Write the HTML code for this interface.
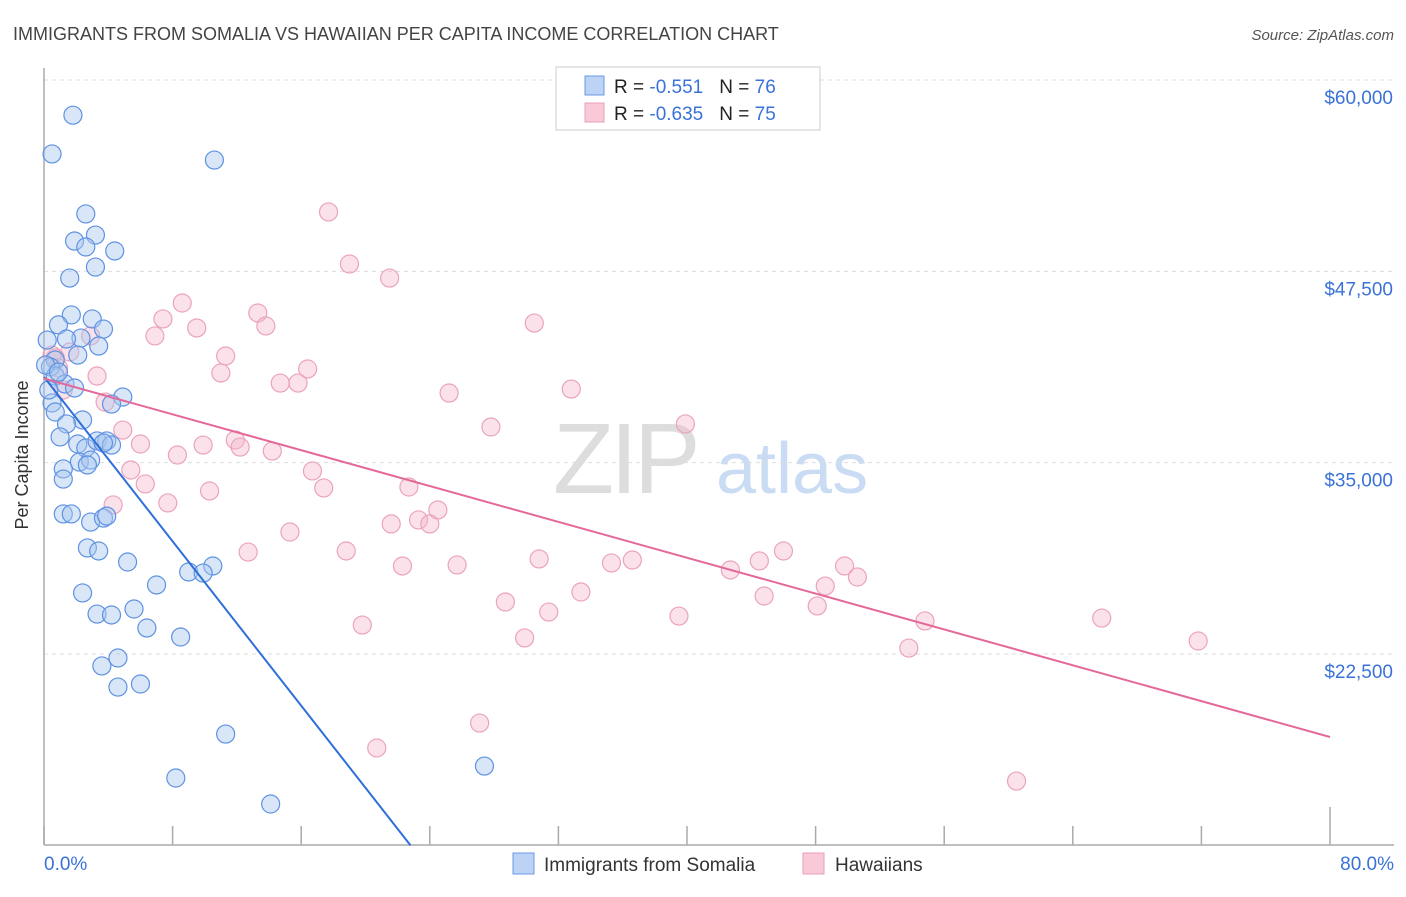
<!DOCTYPE html>
<html><head><meta charset="utf-8"><style>
body{margin:0;background:#fff;font-family:"Liberation Sans",sans-serif}
svg text{font-family:"Liberation Sans",sans-serif}
</style></head><body>
<svg id="chart" width="1406" height="892" xmlns="http://www.w3.org/2000/svg">
<text x="13" y="40" font-size="18" fill="#444">IMMIGRANTS FROM SOMALIA VS HAWAIIAN PER CAPITA INCOME CORRELATION CHART</text>
<text x="1394" y="40" font-size="15" fill="#555" font-style="italic" text-anchor="end">Source: ZipAtlas.com</text>
<g>
<text x="553" y="493" font-size="100" font-family="Liberation Serif" fill="#ddd" letter-spacing="-4">ZIP</text>
<text x="716" y="493" font-size="72" fill="#c9dcf3">atlas</text>
</g>
<g id="grid"></g>
<line x1="44" y1="68" x2="44" y2="845" stroke="#aaa" stroke-width="1.5"/>
<line x1="44" y1="845" x2="1394" y2="845" stroke="#aaa" stroke-width="1.5"/>
<g id="xticks"></g>
<text x="28" y="455" font-size="18" fill="#333" text-anchor="middle" transform="rotate(-90 28 455)">Per Capita Income</text>
<text x="44" y="870" font-size="19" fill="#3a72d8">0.0%</text>
<text x="1394" y="870" font-size="19" fill="#3a72d8" text-anchor="end">80.0%</text>
<g id="pink"></g>
<g id="blue"></g>
<g id="trends"></g>
<g>
<rect x="556" y="67" width="264" height="63" fill="#fff" stroke="#ccc"/>
<rect x="585" y="76" width="19" height="19" fill="#bcd3f5" stroke="#6a9ae3"/>
<rect x="585" y="103" width="19" height="19" fill="#f9c9d7" stroke="#eaa0b8"/>
<text x="614" y="93" font-size="19" fill="#222">R = <tspan fill="#3a72d8"> -0.551</tspan><tspan dx="16">N = </tspan><tspan fill="#3a72d8">76</tspan></text>
<text x="614" y="120" font-size="19" fill="#222">R = <tspan fill="#3a72d8">-0.635</tspan><tspan dx="16">N = </tspan><tspan fill="#3a72d8">75</tspan></text>
</g>
<g>
<rect x="513" y="853" width="21" height="21" fill="#bcd3f5" stroke="#6a9ae3"/>
<text x="544" y="871" font-size="19" fill="#333">Immigrants from Somalia</text>
<rect x="803" y="853" width="21" height="21" fill="#f9c9d7" stroke="#eaa0b8"/>
<text x="835" y="871" font-size="19" fill="#333">Hawaiians</text>
</g>
</svg>
<script>
const yTicks=[22500,35000,47500,60000];
const yTickLabels=["$22,500","$35,000","$47,500","$60,000"];
const xTicks=[0,8,16,24,32,40,48,56,64,72,80];
const blueX=[1.8,0.5,10.6,2.6,3.2,1.9,2.6,4.4,1.6,3.2,1.7,0.9,3.0,3.7,0.2,2.3,1.4,3.4,2.1,0.7,0.4,0.7,1.3,1.9,4.9,4.2,0.5,0.7,2.4,1.4,1.0,2.1,2.6,3.3,3.9,4.2,3.7,2.2,2.9,2.7,1.2,1.2,1.2,1.7,2.9,3.7,3.9,2.7,3.4,5.2,10.5,9.0,9.9,7.0,2.4,5.6,3.3,4.2,6.4,8.5,3.6,4.6,4.6,6.0,11.3,8.2,27.4,14.1,0.3,0.1,0.9];
const blueY=[57700,55170,54770,51250,49870,49480,49090,48830,47060,47780,44650,44000,44390,43730,43010,43140,43080,42620,42030,41710,41250,40660,40140,39880,39290,38830,38900,38310,37790,37530,36680,36220,35960,36420,36420,36150,36290,35040,35170,34850,34590,33930,31650,31650,31120,31380,31510,29430,29230,28510,28250,27860,27790,27010,26490,25440,25110,25050,24200,23610,21720,22240,20340,20540,17270,14400,15180,12700,39750,41380,40920];
const pinkX=[17.7,19.0,21.5,30.5,8.6,7.4,9.5,13.3,13.8,6.9,11.3,11.0,16.4,14.7,15.8,25.2,32.8,3.3,2.9,1.6,0.7,1.2,3.8,4.9,6.0,8.3,9.9,11.9,12.2,14.2,27.8,39.9,5.4,6.3,10.3,16.7,17.4,22.7,4.3,7.7,15.3,21.6,23.3,24.0,24.5,12.7,18.8,22.3,25.7,30.8,35.3,36.6,42.7,44.5,46.0,49.8,50.6,33.4,28.7,31.4,44.8,48.6,48.1,39.5,19.8,29.9,54.8,65.8,53.8,71.8,27.1,20.7,60.5,0.5,0.9];
const pinkY=[51380,47980,47060,44120,45430,44390,43800,44780,43930,43280,41970,40860,41120,40200,40200,39550,39810,40660,43280,42230,41840,39750,38960,37130,36220,35500,36150,36480,36020,35760,37330,37530,34520,33610,33150,34460,33350,33410,32240,32370,30470,31000,31260,31000,31910,29160,29230,28250,28320,28710,28450,28640,27990,28580,29230,28250,27530,26550,25900,25240,26290,26940,25640,24980,24390,23550,24660,24850,22890,23350,17990,16360,14200,42030,41190];
const blueTrendX=[0,22.8];
const blueTrendY=[40600,10000];
const pinkTrendX=[0,80];
const pinkTrendY=[40500,17080];
const NS="http://www.w3.org/2000/svg";
function sx(p){return 44+(p/80)*1286;}
function sy(v){return 80+(60000-v)*0.015307;}
function mk(tag,attrs,parent){const e=document.createElementNS(NS,tag);for(const k in attrs)e.setAttribute(k,attrs[k]);parent.appendChild(e);return e;}
const grid=document.getElementById('grid');
yTicks.forEach((t,i)=>{
 const l=mk('line',{x1:44,x2:1394,y1:sy(t),y2:sy(t),stroke:'#ddd','stroke-dasharray':'4,4'},grid);
 
 
 const tx=mk('text',{x:1393,y:sy(t)+24,'font-size':19,fill:'#3a72d8','text-anchor':'end'},grid);
 tx.textContent=yTickLabels[i];
 
 
});
const xt=document.getElementById('xticks');
xTicks.forEach((t,i)=>{
 const l=mk('line',{x1:sx(t),x2:sx(t),y1:(i===xTicks.length-1?807:826),y2:845,stroke:'#aaa','stroke-width':1.5},xt);
 
 
});
function dots(xs,ys,gid,fill,stroke,name){
 const g=document.getElementById(gid);
 xs.forEach((x,i)=>{
  const c=mk('circle',{cx:sx(x),cy:sy(ys[i]),r:9,fill:fill,stroke:stroke,'stroke-width':1.2},g);
  
  
 });
}
dots(pinkX,pinkY,'pink','rgba(246,182,202,0.4)','#eba3bb','hawaiians-point');
dots(blueX,blueY,'blue','rgba(168,199,240,0.45)','#5e92e2','somalia-point');
const tr=document.getElementById('trends');
const bl=mk('line',{x1:sx(blueTrendX[0]),y1:sy(blueTrendY[0]),x2:sx(blueTrendX[1]),y2:sy(blueTrendY[1]),stroke:'#2e6fd8','stroke-width':2},tr);


const pl=mk('line',{x1:sx(pinkTrendX[0]),y1:sy(pinkTrendY[0]),x2:sx(pinkTrendX[1]),y2:sy(pinkTrendY[1]),stroke:'#e4689a','stroke-width':2},tr);


</script>
</body></html>
